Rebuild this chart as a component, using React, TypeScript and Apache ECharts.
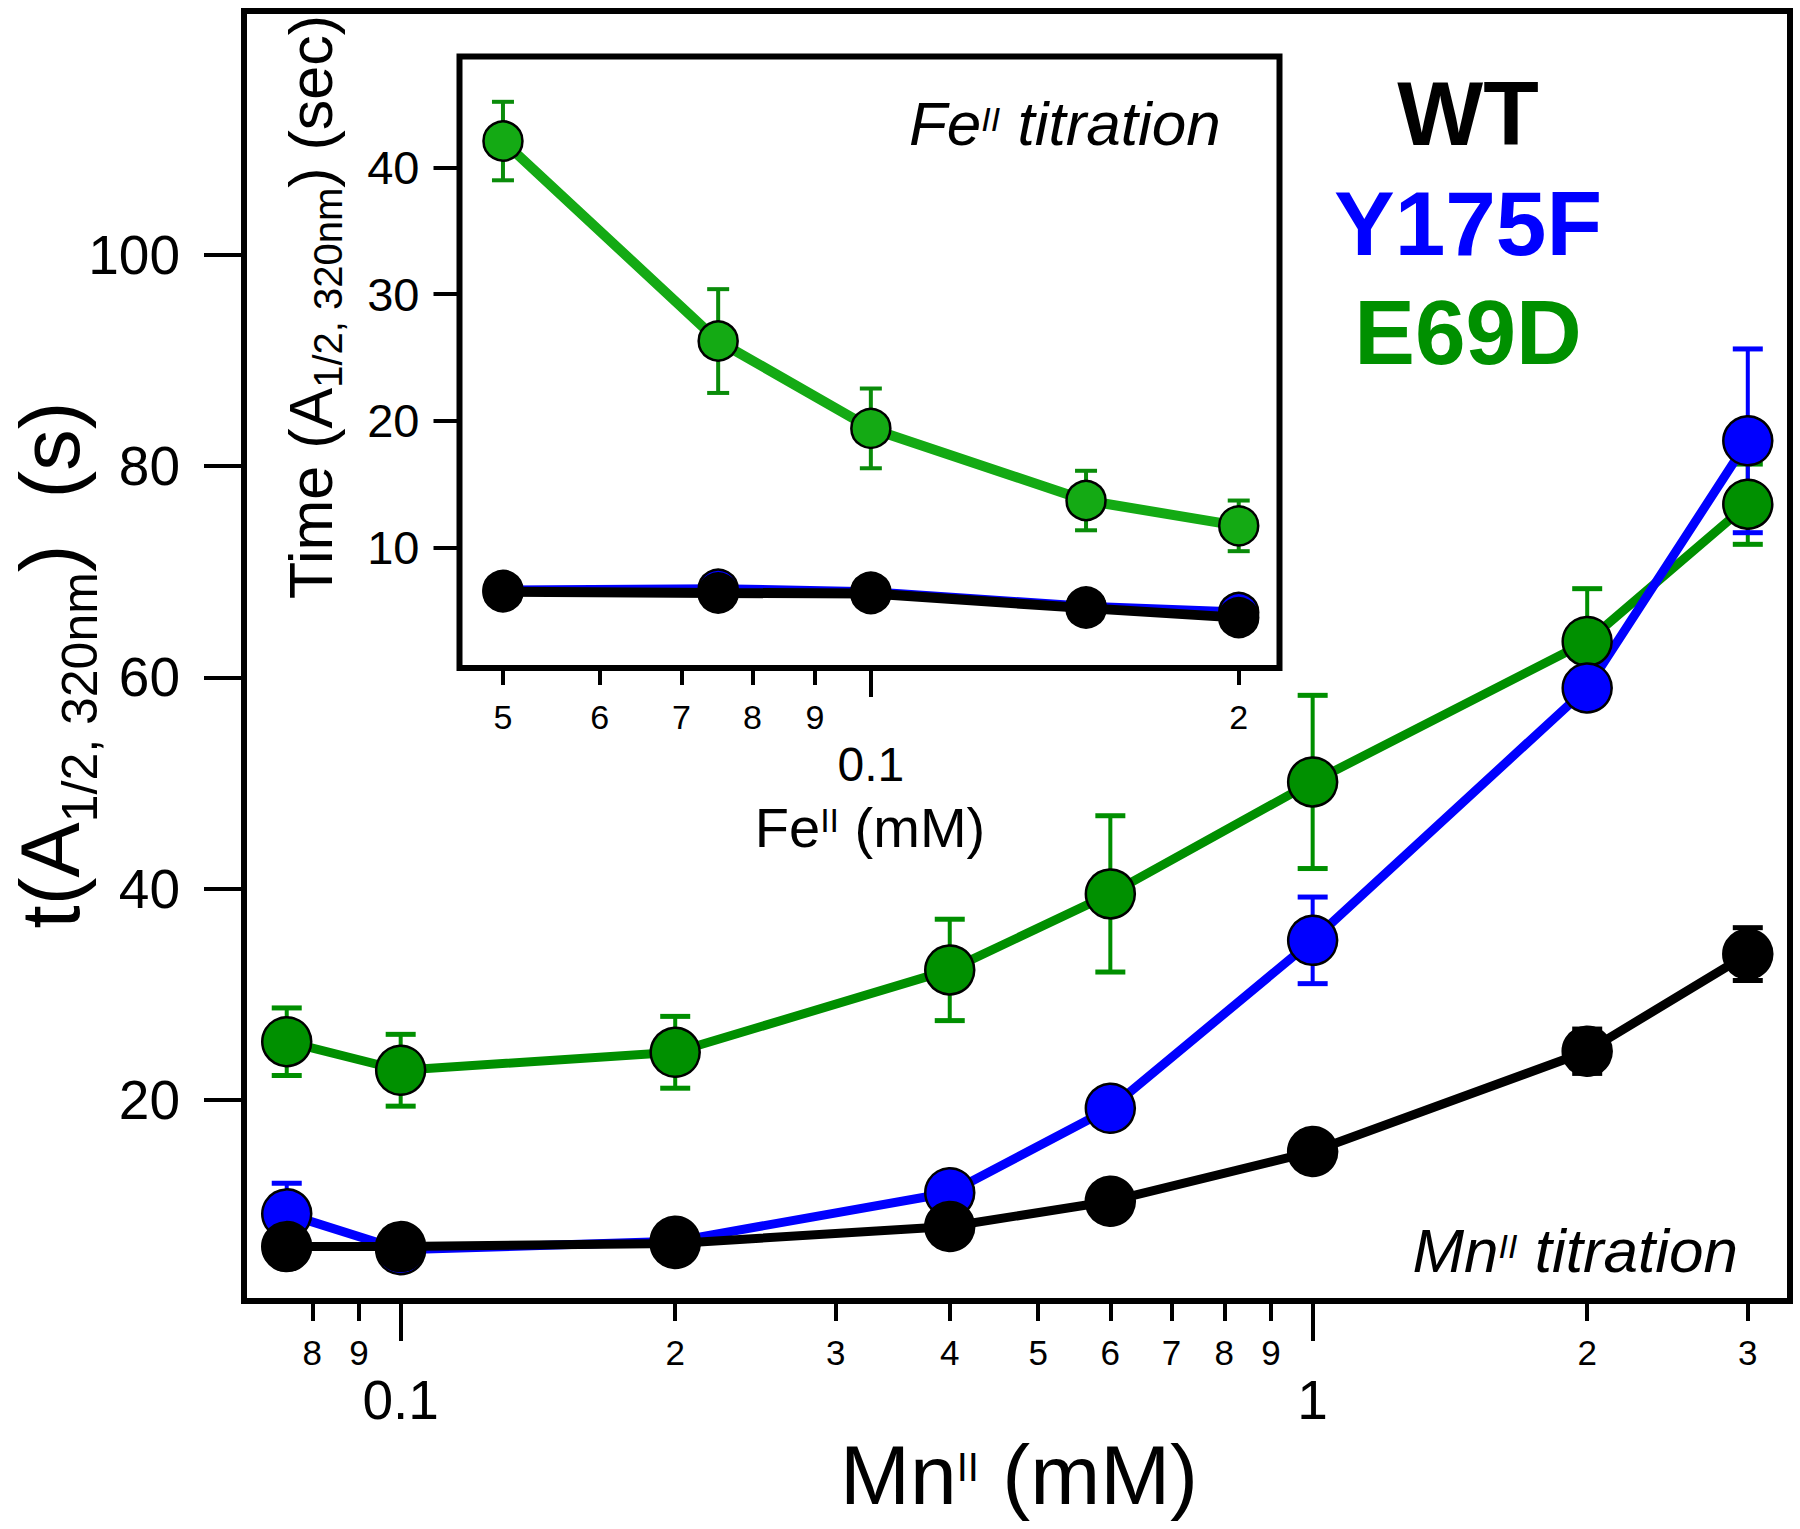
import React, { useEffect, useRef } from 'react';
import * as echarts from 'echarts';

const FONT = '"Liberation Sans", Arial, Helvetica, sans-serif';

// ---------- Main plot (Mn titration) ----------
const mainX = [0.075, 0.1, 0.2, 0.4, 0.6, 1, 2, 3];
const wtMain = [6.1, 6.1, 6.4, 8.0, 10.4, 15.1, 24.6, 33.8];
const wtMainErr = [0, 0, 0, 0, 0, 0, 2.1, 2.5];
const y175fMain = [9.2, 5.8, 6.6, 11.2, 19.2, 35.1, 59.0, 82.4];
const y175fMainErr = [2.9, 0, 0, 0, 0, 4.1, 0, 8.7];
const e69dMain = [25.5, 22.8, 24.5, 32.3, 39.5, 50.1, 63.4, 76.4];
const e69dMainErr = [3.2, 3.4, 3.4, 4.8, 7.4, 8.2, 5.0, 3.8];

const mainMinorTicks = [0.08, 0.09, 0.2, 0.3, 0.4, 0.5, 0.6, 0.7, 0.8, 0.9, 2, 3];
const mainMinorLabels = ['8', '9', '2', '3', '4', '5', '6', '7', '8', '9', '2', '3'];
const mainMajorTicks = [0.1, 1];
const mainMajorLabels = ['0.1', '1'];
const mainYTicks = [20, 40, 60, 80, 100];

// ---------- Inset (Fe titration) ----------
const insetX = [0.05, 0.075, 0.1, 0.15, 0.2];
const wtInset = [6.5, 6.4, 6.35, 5.2, 4.45];
const y175fInset = [6.6, 6.7, 6.45, 5.3, 4.85];
const e69dInset = [42.1, 26.3, 19.4, 13.7, 11.7];
const e69dInsetErr = [3.1, 4.1, 3.15, 2.35, 2.0];

const insetMinorTicks = [0.05, 0.06, 0.07, 0.08, 0.09, 0.2];
const insetMinorLabels = ['5', '6', '7', '8', '9', '2'];
const insetMajorTicks = [0.1];
const insetMajorLabels = ['0.1'];
const insetYTicks = [10, 20, 30, 40];

const GREEN = '#008f00';
const GREEN_IN = '#14aa14';
const GREEN_IN_ERR = '#0a8c0a';
const BLUE = '#0000ff';
const BLACK = '#000000';

const lg = (v: number) => Math.log10(v);

function labelFor(values: number[], labels: string[]) {
  return (val: number) => {
    for (let i = 0; i < values.length; i++) {
      if (Math.abs(lg(values[i]) - val) < 1e-6) return labels[i];
    }
    return '';
  };
}

function errorSeries(xs: number[], ys: number[], es: number[], xi: number, yi: number, color: string, capW: number, lw: number, capLw: number) {
  const data: number[][] = [];
  xs.forEach((x, i) => {
    if (es[i] > 0) data.push([lg(x), ys[i], es[i]]);
  });
  return {
    type: 'custom',
    xAxisIndex: xi,
    yAxisIndex: yi,
    silent: true,
    data,
    encode: { x: 0, y: 1 },
    renderItem: (_p: any, api: any) => {
      const x = api.value(0);
      const y = api.value(1);
      const e = api.value(2);
      const t = api.coord([x, y + e]);
      const b = api.coord([x, y - e]);
      const h = capW / 2;
      return {
        type: 'group',
        children: [
          { type: 'line', shape: { x1: t[0], y1: t[1], x2: b[0], y2: b[1] }, style: { stroke: color, lineWidth: lw } },
          { type: 'line', shape: { x1: t[0] - h, y1: t[1], x2: t[0] + h, y2: t[1] }, style: { stroke: color, lineWidth: capLw } },
          { type: 'line', shape: { x1: b[0] - h, y1: b[1], x2: b[0] + h, y2: b[1] }, style: { stroke: color, lineWidth: capLw } },
        ],
      };
    },
  };
}

function lineSeries(xs: number[], ys: number[], xi: number, yi: number, color: string, fill: string, size: number, width: number, border: number) {
  return {
    type: 'line',
    xAxisIndex: xi,
    yAxisIndex: yi,
    silent: true,
    data: xs.map((x, i) => [lg(x), ys[i]]),
    symbol: 'circle',
    symbolSize: size,
    showAllSymbol: true,
    lineStyle: { color, width },
    itemStyle: { color: fill, borderColor: '#000', borderWidth: border, opacity: 1 },
    emphasis: { disabled: true },
  };
}

function xAxisDef(grid: number, min: number, max: number, ticks: number[], labels: string[], tickLen: number, fontSize: number, margin: number) {
  const vals = ticks.map(lg);
  return {
    type: 'value',
    gridIndex: grid,
    position: 'bottom',
    min,
    max,
    axisLine: { show: false, onZero: false },
    splitLine: { show: false },
    axisTick: { show: true, length: tickLen, customValues: vals, lineStyle: { color: '#000', width: 4 } },
    axisLabel: {
      show: true,
      customValues: vals,
      formatter: labelFor(ticks, labels),
      fontSize,
      fontFamily: FONT,
      color: '#000',
      margin,
    },
  };
}

function richText(x: number, y: number, text: string, rich: any, align: string, opts: any = {}) {
  return {
    type: 'text',
    x,
    y,
    silent: true,
    ...opts,
    style: {
      text,
      fill: '#000',
      fontFamily: FONT,
      align,
      textAlign: align,
      verticalAlign: 'middle',
      textVerticalAlign: 'middle',
      rich,
    },
  };
}

function tok(fontSize: number, padTop: number, italic = false) {
  const t: any = {
    fontSize,
    fontFamily: FONT,
    lineHeight: fontSize,
    verticalAlign: 'top',
    fill: '#000',
  };
  if (italic) t.fontStyle = 'italic';
  if (padTop) t.padding = [padTop, 0, 0, 0];
  return t;
}

function legendText(y: number, text: string, color: string) {
  return {
    type: 'text',
    x: 1468,
    y,
    silent: true,
    style: {
      text,
      fill: color,
      fontFamily: FONT,
      fontSize: 91,
      fontWeight: 'bold',
      align: 'center',
      textAlign: 'center',
      verticalAlign: 'middle',
      textVerticalAlign: 'middle',
    },
  };
}

export default function App() {
  const ref = useRef<HTMLDivElement>(null);

  useEffect(() => {
    if (!ref.current) return;
    const chart = echarts.init(ref.current, undefined, { renderer: 'svg' });

    const option: any = {
      animation: false,
      backgroundColor: '#fff',
      grid: [
        {
          left: 244, top: 11, width: 1546, height: 1290,
          show: true, borderWidth: 6, borderColor: '#000', backgroundColor: 'transparent',
          containLabel: false, outerBoundsMode: 'none',
        },
        {
          left: 459.5, top: 56.5, width: 820, height: 611.5,
          show: true, borderWidth: 6, borderColor: '#000', backgroundColor: '#fff',
          containLabel: false, outerBoundsMode: 'none',
        },
      ],
      xAxis: [
        xAxisDef(0, -1.1718, 0.5234, mainMinorTicks, mainMinorLabels, 20, 35, 34),
        xAxisDef(0, -1.1718, 0.5234, mainMajorTicks, mainMajorLabels, 40, 55, 71),
        xAxisDef(1, -1.3366, -0.6656, insetMinorTicks, insetMinorLabels, 17, 34, 32),
        xAxisDef(1, -1.3366, -0.6656, insetMajorTicks, insetMajorLabels, 29, 48, 72),
      ],
      yAxis: [
        {
          type: 'value', gridIndex: 0, position: 'left', min: 0.95, max: 123.1,
          axisLine: { show: false, onZero: false }, splitLine: { show: false },
          axisTick: { show: true, length: 40, customValues: mainYTicks, lineStyle: { color: '#000', width: 4 } },
          axisLabel: { customValues: mainYTicks, fontSize: 55, fontFamily: FONT, color: '#000', margin: 64 },
        },
        {
          type: 'value', gridIndex: 1, position: 'left', min: 0.47, max: 48.78,
          axisLine: { show: false, onZero: false }, splitLine: { show: false },
          axisTick: { show: true, length: 26, customValues: insetYTicks, lineStyle: { color: '#000', width: 4 } },
          axisLabel: { customValues: insetYTicks, fontSize: 47, fontFamily: FONT, color: '#000', margin: 40 },
        },
      ],
      series: [
        // main plot
        errorSeries(mainX, e69dMain, e69dMainErr, 0, 0, GREEN, 30, 4, 5),
        lineSeries(mainX, e69dMain, 0, 0, GREEN, '#009000', 49, 9, 2.5),
        errorSeries(mainX, y175fMain, y175fMainErr, 0, 0, BLUE, 30, 4, 5),
        lineSeries(mainX, y175fMain, 0, 0, BLUE, BLUE, 49, 9, 2.5),
        errorSeries(mainX, wtMain, wtMainErr, 0, 0, BLACK, 30, 4, 5),
        lineSeries(mainX, wtMain, 0, 0, BLACK, BLACK, 49, 9, 2.5),
        // inset
        errorSeries(insetX, e69dInset, e69dInsetErr, 2, 1, GREEN_IN_ERR, 22, 4, 4),
        lineSeries(insetX, e69dInset, 2, 1, GREEN_IN, GREEN_IN, 39, 10, 2.5),
        lineSeries(insetX, y175fInset, 2, 1, BLUE, BLUE, 39, 10, 2.5),
        lineSeries(insetX, wtInset, 2, 1, BLACK, BLACK, 39, 10, 2.5),
      ],
      graphic: [
        legendText(113.5, 'WT', '#000'),
        legendText(223, 'Y175F', BLUE),
        legendText(332, 'E69D', '#009000'),
        richText(909, 123.5, '{m|Fe}{p|II}{m| titration}', { m: tok(62, 0, true), p: tok(34, 9, true) }, 'left'),
        richText(1738, 1250.5, '{m|Mn}{p|II}{m| titration}', { m: tok(62, 0, true), p: tok(34, 9, true) }, 'right'),
        richText(1019, 1475, '{m|Mn}{p|II}{m| (mM)}', { m: tok(84, 0), p: tok(40, 14) }, 'center'),
        richText(870, 827.6, '{m|Fe}{p|II}{m| (mM)}', { m: tok(56, 0), p: tok(34, 3) }, 'center'),
        richText(50, 665, '{m|t(A}{s|1/2, 320nm}{m|)\u00a0 (s)}', { m: tok(83, 0), s: tok(50, 46) }, 'center', { rotation: Math.PI / 2 }),
        richText(311, 307, '{m|Time (A}{s|1/2, 320nm}{m|) (sec)}', { m: tok(61, 0), s: tok(40, 27) }, 'center', { rotation: Math.PI / 2 }),
      ],
    };

    chart.setOption(option);
    return () => chart.dispose();
  }, []);

  return (
    <div
      ref={ref}
      style={{ position: 'fixed', left: 0, top: 0, width: 1800, height: 1529, background: '#fff' }}
    />
  );
}
